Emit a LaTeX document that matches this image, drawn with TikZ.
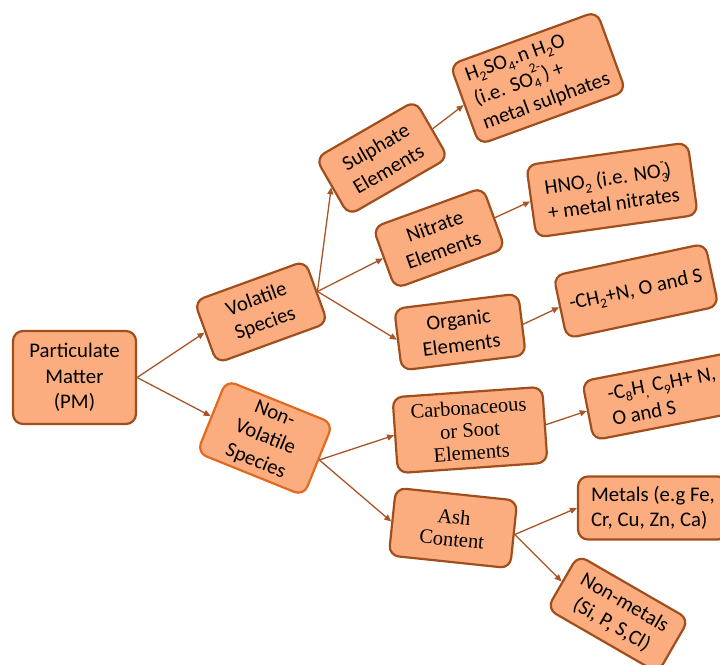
\documentclass[tikz,border=0pt]{standalone}
\usepackage{fontspec}
\setmainfont{Carlito}
\newfontfamily\seriffont{Liberation Serif}
\usetikzlibrary{arrows.meta}
\definecolor{boxfill}{RGB}{251,173,127}
\definecolor{boxline}{RGB}{160,78,28}
\definecolor{boxlineb}{RGB}{226,106,32}
\definecolor{arrowc}{RGB}{168,84,36}
\newcommand\lowsub[1]{\raisebox{-0.22em}{\fontsize{13.5}{13.5}\selectfont #1}}
\newcommand\highsup[1]{\raisebox{0.55em}{\fontsize{13.5}{13.5}\selectfont #1}}
\newcommand\subsup[2]{\makebox[0pt][l]{\lowsub{#1}}\highsup{#2}}
\begin{document}
\begin{tikzpicture}[x=1pt,y=-1pt,
  pmbox/.style={draw=boxline, fill=boxfill, line width=2.2pt, rounded corners=10pt,
    inner sep=0pt, align=center, font=\fontsize{20.8}{25.5}\selectfont, text=black},
  serifbox/.style={font=\seriffont\fontsize{20.5}{22.5}\selectfont},
  conn/.style={draw=arrowc, line width=1.3pt, -{Triangle[length=7pt,width=6pt]}}
]
\useasboundingbox (0,0) rectangle (720,664);
\clip (0,0) rectangle (720,664);

\node[pmbox, minimum width=123pt, minimum height=93pt] (pm) at (74.5,377.5) {Particulate\\Matter\\(PM)};
\node[pmbox, minimum width=118pt, minimum height=66pt, rotate=20] (vol) at (261,312) {Volatile\\Species};
\node[pmbox, draw=boxlineb, minimum width=115pt, minimum height=78pt, rotate=-22] (nonvol) at (265,438) {Non-\\Volatile\\Species};
\node[pmbox, minimum width=115pt, minimum height=66pt, rotate=30] (sul) at (382,158) {Sulphate\\Elements};
\node[pmbox, minimum width=156pt, minimum height=85pt, rotate=20, align=left] (h2so4) at (538,78)
  {H\lowsub{2}SO\lowsub{4}.n H\lowsub{2}O\\(i.e. SO\subsup{4}{2-}) +\\metal sulphates};
\node[pmbox, minimum width=117pt, minimum height=65pt, rotate=20] (nit) at (439,238) {Nitrate\\Elements};
\node[pmbox, minimum width=163pt, minimum height=73pt, rotate=8, align=left] (hno2) at (612,190)
  {HNO\lowsub{2} (i.e. NO\subsup{3}{-})\\+ metal nitrates};
\node[pmbox, minimum width=125pt, minimum height=62pt, rotate=7] (org) at (460,332) {Organic\\Elements};
\node[pmbox, minimum width=155pt, minimum height=64pt, rotate=12] (ch2) at (636,291) {-CH\lowsub{2}+N, O and S};
\node[pmbox, serifbox, minimum width=150pt, minimum height=76pt, rotate=4] (carb) at (470,430) {Carbonaceous\\or Soot\\Elements};
\node[pmbox, minimum width=155pt, minimum height=60pt, rotate=11, align=left] (c8h) at (664,396)
  {-C\lowsub{8}H\lowsub{,} C\lowsub{9}H+ N,\\O and S};
\node[pmbox, serifbox, minimum width=122pt, minimum height=68pt, rotate=-6] (ash) at (453,528) {Ash\\Content};
\node[pmbox, minimum width=150pt, minimum height=63pt, align=left] (met) at (653,508) {Metals (e.g Fe,\\Cr, Cu, Zn, Ca)};
\node[pmbox, minimum width=128pt, minimum height=62pt, rotate=-30] (nonmet) at (618,614) {Non-metals\\(Si, P, S,Cl)};

\draw[conn] (pm.east) -- (vol.west);
\draw[conn] (pm.east) -- (nonvol.west);
\draw[conn] (vol.east) -- (sul.west);
\draw[conn] (vol.east) -- (nit.west);
\draw[conn] (vol.east) -- (org.west);
\draw[conn] (sul.east) -- (h2so4.west);
\draw[conn] (nit.east) -- (hno2.west);
\draw[conn] (org.east) -- (ch2.west);
\draw[conn] (nonvol.east) -- (carb.west);
\draw[conn] (nonvol.east) -- (ash.west);
\draw[conn] (carb.east) -- (c8h.west);
\draw[conn] (ash.east) -- (met.west);
\draw[conn] (ash.east) -- (nonmet.west);
\end{tikzpicture}
\end{document}
